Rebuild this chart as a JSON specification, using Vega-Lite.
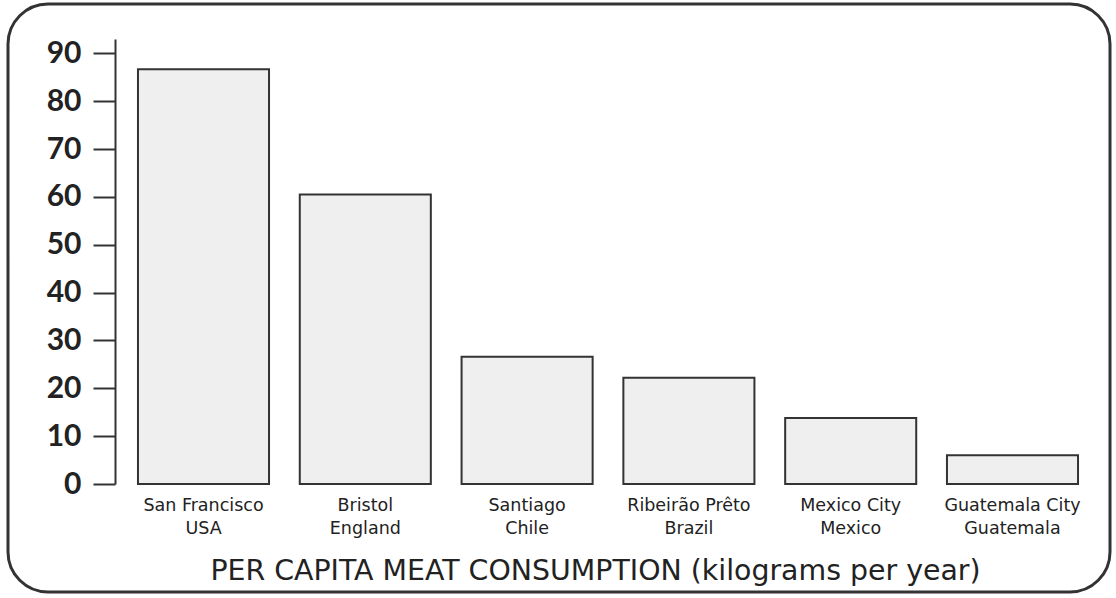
{
  "$schema": "https://vega.github.io/schema/vega-lite/v6.json",
  "autosize": "none",
  "width": 1102,
  "height": 588,
  "padding": {"left": 8, "top": 4, "right": 6, "bottom": 6},
  "background": "white",
  "config": {
    "view": {"stroke": "#333333", "strokeWidth": 3, "cornerRadius": 40, "fill": "white"},
    "font": "Lato"
  },
  "data": {
    "values": [
      {"city": "San Francisco|USA", "kg": 86.7},
      {"city": "Bristol|England", "kg": 60.5},
      {"city": "Santiago|Chile", "kg": 26.6},
      {"city": "Ribeirão Prêto|Brazil", "kg": 22.2},
      {"city": "Mexico City|Mexico", "kg": 13.8},
      {"city": "Guatemala City|Guatemala", "kg": 6.0}
    ]
  },
  "mark": {"type": "bar", "fill": "#efefef", "stroke": "#333333", "strokeWidth": 2},
  "encoding": {
    "x": {
      "field": "city",
      "type": "nominal",
      "sort": null,
      "scale": {"range": [107, 1093], "paddingInner": 0.19, "paddingOuter": 0.142},
      "axis": {
        "orient": "bottom",
        "offset": -104,
        "domain": false,
        "ticks": false,
        "labelAngle": 0,
        "labelExpr": "split(datum.label, '|')",
        "labelFontSize": 17.5,
        "labelColor": "#222222",
        "labelPadding": 8,
        "labelBaseline": "top",
        "labelLineHeight": 23,
        "labelFont": "DejaVu Sans",
        "title": "PER CAPITA MEAT CONSUMPTION (kilograms per year)",
        "titleFontSize": 28.4,
        "titleFontWeight": "normal",
        "titleColor": "#222222",
        "titleFont": "DejaVu Sans",
        "titleX": 587,
        "titleY": 91,
        "titleBaseline": "alphabetic",
        "titleAnchor": "middle"
      }
    },
    "y": {
      "field": "kg",
      "type": "quantitative",
      "scale": {"domain": [0, 93], "range": [480, 35], "nice": false, "zero": false},
      "axis": {
        "orient": "left",
        "offset": -107,
        "values": [0, 10, 20, 30, 40, 50, 60, 70, 80, 90],
        "grid": false,
        "domainColor": "#333333",
        "domainWidth": 2,
        "tickColor": "#333333",
        "tickWidth": 2,
        "tickSize": 22,
        "labelFontSize": 30,
        "labelFontWeight": "bold",
        "labelColor": "#222222",
        "labelPadding": 12,
        "labelFont": "Lato",
        "title": null
      }
    }
  }
}
